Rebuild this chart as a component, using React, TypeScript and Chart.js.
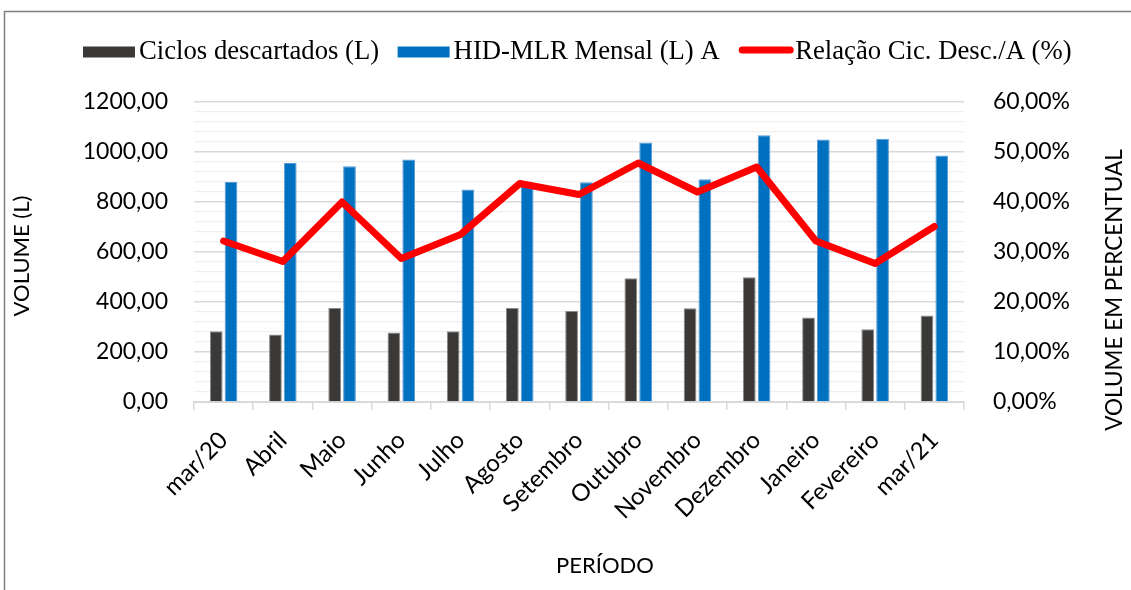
import React, { useEffect, useRef } from 'react';
import { Chart, registerables } from 'chart.js';

Chart.register(...registerables);

const categories = ['mar/20', 'Abril', 'Maio', 'Junho', 'Julho', 'Agosto', 'Setembro', 'Outubro', 'Novembro', 'Dezembro', 'Janeiro', 'Fevereiro', 'mar/21'];
const ciclosDescartados = [283, 270, 376, 278, 283, 376, 364, 495, 375, 499, 338, 291, 346];
const hidMlrMensal = [880, 956, 943, 970, 850, 862, 879, 1038, 891, 1067, 1050, 1053, 986];
const relacaoPct = [32.2, 28.1, 40.0, 28.7, 33.5, 43.7, 41.5, 47.8, 42.0, 47.0, 32.2, 27.7, 35.1];

const seriesLabels = ['Ciclos descartados (L)', 'HID-MLR Mensal (L) A', 'Relação Cic. Desc./A (%)'];
const leftAxisTitle = 'VOLUME (L)';
const rightAxisTitle = 'VOLUME EM PERCENTUAL';
const bottomAxisTitle = 'PERÍODO';

const DARK = '#3a3937';
const BLUE = '#0070c0';
const RED = '#ff0000';

const decorPlugin = {
  id: 'decor',
  beforeDraw(chart: any) {
    const ctx = chart.ctx;
    ctx.save();
    ctx.strokeStyle = '#7f7f7f';
    ctx.lineWidth = 1.5;
    ctx.beginPath();
    ctx.moveTo(4.5, 590);
    ctx.lineTo(4.5, 11.5);
    ctx.lineTo(1131, 11.5);
    ctx.stroke();
    ctx.restore();
  },
  afterDraw(chart: any) {
    const ctx = chart.ctx;
    ctx.save();
    // legend
    ctx.font = '26.7px "Liberation Serif"';
    ctx.textBaseline = 'alphabetic';
    ctx.textAlign = 'left';
    let x = 83;
    const y = 52;
    chart.data.datasets.forEach((ds: any) => {
      if (ds.type === 'line') {
        ctx.strokeStyle = ds.borderColor;
        ctx.lineWidth = 7;
        ctx.lineCap = 'round';
        ctx.beginPath();
        ctx.moveTo(x + 4, y - 2);
        ctx.lineTo(x + 52, y - 2);
        ctx.stroke();
        x += 57;
      } else {
        ctx.fillStyle = ds.backgroundColor;
        ctx.fillRect(x, y - 5.5, 52, 11);
        x += 56;
      }
      ctx.fillStyle = '#000';
      ctx.fillText(ds.label, x, 58.5);
      x += ctx.measureText(ds.label).width + 18.5;
    });
    // axis titles
    ctx.font = '22px Lato';
    ctx.fillStyle = '#000';
    ctx.textAlign = 'center';
    ctx.textBaseline = 'middle';
    ctx.save();
    ctx.translate(22, 256);
    ctx.rotate(-Math.PI / 2);
    ctx.fillText(leftAxisTitle, 0, 0);
    ctx.restore();
    ctx.save();
    ctx.translate(1115, 290);
    ctx.rotate(-Math.PI / 2);
    ctx.font = '22.5px Lato';
    ctx.fillText(rightAxisTitle, 0, 0);
    ctx.restore();
    ctx.fillText(bottomAxisTitle, 605, 566);
    ctx.restore();
  },
};

const fmt = (v: number) => v.toFixed(2).replace('.', ',');

export default function App() {
  const canvasRef = useRef<HTMLCanvasElement | null>(null);

  useEffect(() => {
    if (!canvasRef.current) return;
    const chart = new Chart(canvasRef.current, {
      type: 'bar',
      data: {
        labels: categories,
        datasets: [
          {
            type: 'bar',
            label: seriesLabels[0],
            data: ciclosDescartados,
            backgroundColor: DARK,
            borderColor: '#8a8a8a',
            borderWidth: 1,
            yAxisID: 'y',
            order: 1,
            categoryPercentage: 0.5,
            barPercentage: 0.86,
          },
          {
            type: 'bar',
            label: seriesLabels[1],
            data: hidMlrMensal,
            backgroundColor: BLUE,
            borderColor: '#5b9bd5',
            borderWidth: 1,
            yAxisID: 'y',
            order: 2,
            categoryPercentage: 0.5,
            barPercentage: 0.86,
          },
          {
            type: 'line',
            label: seriesLabels[2],
            data: relacaoPct,
            borderColor: RED,
            backgroundColor: RED,
            borderWidth: 7,
            pointRadius: 0,
            borderCapStyle: 'round',
            borderJoinStyle: 'round',
            tension: 0,
            yAxisID: 'y1',
            order: 0,
          },
        ] as any,
      },
      options: {
        animation: false,
        responsive: false,
        maintainAspectRatio: false,
        layout: { padding: { top: 102, left: 4, right: 0, bottom: 0 } },
        plugins: {
          legend: { display: false },
          tooltip: { enabled: false },
        },
        scales: {
          x: {
            grid: {
              display: true,
              drawOnChartArea: false,
              drawTicks: true,
              tickLength: 8,
              color: '#d9d9d9',
              lineWidth: 1.5,
            },
            border: { display: true, color: '#d9d9d9', width: 2 },
            ticks: {
              autoSkip: false,
              minRotation: 45,
              maxRotation: 45,
              padding: 16,
              color: '#000',
              font: { family: 'Lato', size: 24 },
            },
            afterFit: (s: any) => { s.height = 188; },
          },
          y: {
            position: 'left',
            min: 0,
            max: 1200,
            border: { display: false },
            grid: {
              drawTicks: false,
              color: (c: any) => (c.tick && c.tick.value % 200 === 0 ? '#d9d9d9' : '#f0f0f0'),
              lineWidth: (c: any) => (c.tick && c.tick.value % 200 === 0 ? 1.5 : 1.2),
            },
            ticks: {
              stepSize: 40,
              autoSkip: false,
              maxTicksLimit: 100,
              padding: 26,
              color: '#000',
              font: { family: 'Lato', size: 23 },
              callback: (v: any) => (Number(v) % 200 === 0 ? fmt(Number(v)) : ''),
            },
            afterFit: (s: any) => { s.width = 190; },
          },
          y1: {
            position: 'right',
            min: 0,
            max: 60,
            border: { display: false },
            grid: { display: false, drawOnChartArea: false },
            ticks: {
              stepSize: 10,
              autoSkip: false,
              padding: 21,
              color: '#000',
              font: { family: 'Lato', size: 23 },
              callback: (v: any) => fmt(Number(v)) + '%',
            },
            afterFit: (s: any) => { s.width = 167; },
          },
        },
      } as any,
      plugins: [decorPlugin],
    });
    return () => chart.destroy();
  }, []);

  return (
    <div style={{ position: 'fixed', left: 0, top: 0, width: 1131, height: 590, background: '#fff' }}>
      <canvas ref={canvasRef} width={1131} height={590} style={{ width: 1131, height: 590, display: 'block' }} />
    </div>
  );
}
